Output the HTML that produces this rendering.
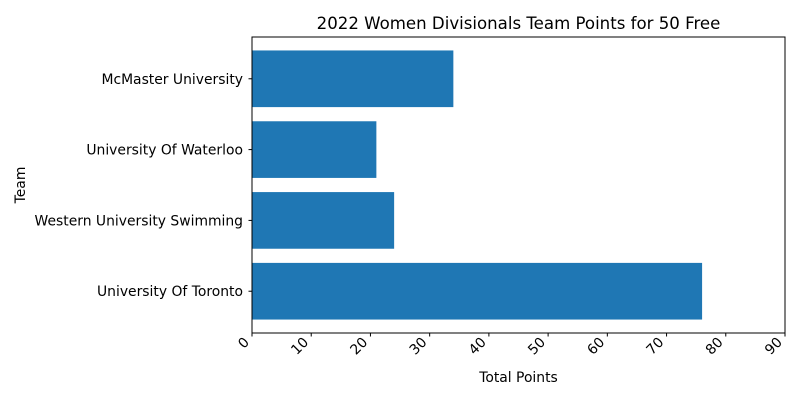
<!DOCTYPE html>
<html><head><meta charset="utf-8"><style>
body{margin:0;background:#fff;}
svg{display:block;font-family:"DejaVu Sans","Liberation Sans",sans-serif;}
</style></head><body>
<svg id="chart" width="800" height="400">
<text x="518.5" y="29" font-size="16.6" text-anchor="middle">2022 Women Divisionals Team Points for 50 Free</text>
<text x="518.5" y="382" font-size="13.9" text-anchor="middle">Total Points</text>
<text x="25" y="185" font-size="13.9" text-anchor="middle" transform="rotate(-90 25 185)">Team</text>
<g id="bars"></g>
<g id="axes"></g>
<rect x="252" y="37" width="533" height="296" fill="none" stroke="#000" stroke-width="1"/>
</svg>
<script>
const teams=["University Of Toronto","Western University Swimming","University Of Waterloo","McMaster University"];
const points=[76,24,21,34];
const xTicks=[0,10,20,30,40,50,60,70,80,90];
const NS="http://www.w3.org/2000/svg";
const L=252,R=785,T=37,B=333;
function xs(v){return L+(v-0)/(90-0)*(R-L);}
function ys(i){return B-(i+0.59)/4.18*(B-T);}
const bandH=0.8/4.18*(B-T);
const bars=document.getElementById('bars'),axes=document.getElementById('axes');
function mk(tag,attrs,parent){const e=document.createElementNS(NS,tag);for(const k in attrs)e.setAttribute(k,attrs[k]);parent.appendChild(e);return e;}
teams.forEach((t,i)=>{
  const r=mk('rect',{x:xs(0),y:ys(i)-bandH/2,width:xs(points[i])-xs(0),height:bandH,fill:'#1f77b4'},bars);
  
  
  const tk=mk('line',{x1:L-3.5,x2:L,y1:ys(i),y2:ys(i),stroke:'#000'},axes);
  
  
  const lb=mk('text',{x:L-9,y:ys(i)+5,'font-size':13.9,'text-anchor':'end'},axes);
  lb.textContent=t;
  
  
});
xTicks.forEach(v=>{
  const x=xs(v);
  const tk=mk('line',{x1:x,x2:x,y1:B,y2:B+3.5,stroke:'#000'},axes);
  
  
  const ax=x-2,ay=B+10;
  const lb=mk('text',{x:ax,y:ay,'font-size':13.9,'text-anchor':'end',transform:'rotate(-45 '+ax+' '+ay+')'},axes);
  lb.textContent=v;
  
  
});
</script>
</body></html>
